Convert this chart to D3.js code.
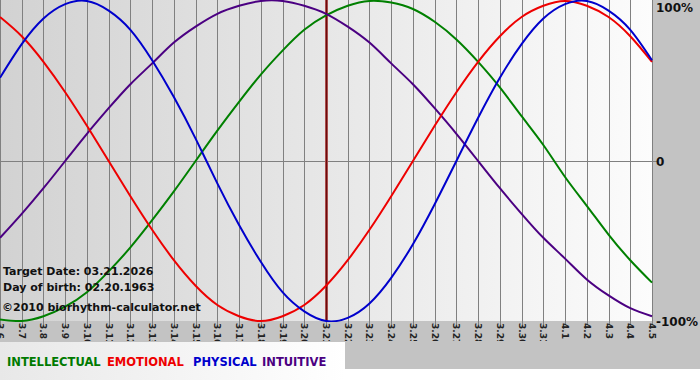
<!DOCTYPE html>
<html>
<head>
<meta charset="utf-8">
<script src="https://cdn.jsdelivr.net/npm/d3@7"></script>
<style>
  body { margin: 0; background: #fff; }
  svg { display: block; font-family: 'DejaVu Sans', Verdana, sans-serif; }
</style>
</head>
<body>
<svg id="chart" width="700" height="380"></svg>
<script>
// day labels along the bottom (3.6 .. 4.5)
const days = ['3.6', '3.7', '3.8', '3.9', '3.10', '3.11', '3.12', '3.13', '3.14', '3.15', '3.16',
  '3.17', '3.18', '3.19', '3.20', '3.21', '3.22', '3.23', '3.24', '3.25', '3.26', '3.27', '3.28',
  '3.29', '3.30', '3.31', '4.1', '4.2', '4.3', '4.4', '4.5'];

// values, one per day (-1 .. 1)
const physical = [0.52, 0.73, 0.89, 0.98, 1.0, 0.94, 0.82, 0.63, 0.40, 0.14, -0.14, -0.40, -0.63,
  -0.82, -0.94, -1.0, -0.98, -0.89, -0.73, -0.52, -0.27, 0.0, 0.27, 0.52, 0.73, 0.89, 0.98, 1.0,
  0.94, 0.82, 0.63];
const emotional = [0.90, 0.78, 0.62, 0.43, 0.22, 0.0, -0.22, -0.43, -0.62, -0.78, -0.90, -0.97,
  -1.0, -0.97, -0.90, -0.78, -0.62, -0.43, -0.22, 0.0, 0.22, 0.43, 0.62, 0.78, 0.90, 0.97, 1.0,
  0.97, 0.90, 0.78, 0.62];
const intellectual = [-0.99, -1.0, -0.97, -0.91, -0.82, -0.69, -0.54, -0.37, -0.19, 0.0, 0.19,
  0.37, 0.54, 0.69, 0.82, 0.91, 0.97, 1.0, 0.99, 0.95, 0.87, 0.76, 0.62, 0.46, 0.28, 0.10, -0.10,
  -0.28, -0.46, -0.62, -0.76];
const intuitive = [-0.48, -0.33, -0.17, 0.0, 0.17, 0.33, 0.48, 0.61, 0.74, 0.84, 0.92, 0.97, 1.0,
  1.0, 0.97, 0.92, 0.84, 0.74, 0.61, 0.48, 0.33, 0.17, 0.0, -0.17, -0.33, -0.48, -0.61, -0.74,
  -0.84, -0.92, -0.97];

const targetDay = '3.21';
const yTicks = [1, 0, -1];
const yTickLabels = ['100%', '0', '-100%'];
const legend = [
  { name: 'INTELLECTUAL', color: '#007a00', x: 7 },
  { name: 'EMOTIONAL', color: '#ee0000', x: 107 },
  { name: 'PHYSICAL', color: '#0000cc', x: 193 },
  { name: 'INTUITIVE', color: '#4b0082', x: 262 }
];
const series = [
  { values: intellectual, color: '#008000' },
  { values: intuitive, color: '#4b0082' },
  { values: emotional, color: '#ee0000' },
  { values: physical, color: '#0000cc' }
];
const infoLines = ['Target Date: 03.21.2026', 'Day of birth: 02.20.1963'];
const copyright = '\u00a92010 biorhythm-calculator.net';

const svg = d3.select('#chart');
const plotW = 652;
const plotTop = 1;
const plotBottom = 321;

const x = d3.scaleLinear().domain([0, days.length - 1]).range([0, plotW]);
const y = d3.scaleLinear().domain([-1, 1]).range([plotBottom, plotTop]);

const defs = svg.append('defs');
const bgGrad = defs.append('linearGradient').attr('id', 'plotbg')
  .attr('x1', 0).attr('x2', 1).attr('y1', 0).attr('y2', 0);
bgGrad.append('stop').attr('offset', 0).attr('stop-color', '#d2d2d2');
bgGrad.append('stop').attr('offset', 1).attr('stop-color', '#fcfcfc');

const legGrad = defs.append('linearGradient').attr('id', 'legbg')
  .attr('x1', 0).attr('x2', 1).attr('y1', 0).attr('y2', 0);
legGrad.append('stop').attr('offset', 0).attr('stop-color', '#e8e8e8');
legGrad.append('stop').attr('offset', 1).attr('stop-color', '#ffffff');

defs.append('clipPath').attr('id', 'plotclip')
  .append('rect').attr('x', 0).attr('y', 0).attr('width', plotW + 1).attr('height', plotBottom + 1);
defs.append('clipPath').attr('id', 'labelclip')
  .append('rect').attr('x', 0).attr('y', plotBottom).attr('width', 700).attr('height', 20);

// outer background
svg.append('rect').attr('width', 700).attr('height', 369).attr('fill', '#c3c3c3');
svg.append('rect').attr('y', 369).attr('width', 700).attr('height', 11).attr('fill', '#ffffff');
svg.append('rect').attr('x', 0).attr('y', 342).attr('width', 345).attr('height', 38)
  .attr('fill', 'url(#legbg)');

// plot background
svg.append('rect').attr('x', 0).attr('y', 0).attr('width', plotW).attr('height', plotBottom)
  .attr('fill', 'url(#plotbg)');

// vertical grid + ticks
svg.append('g').selectAll('line').data(days).join('line')
  .attr('x1', (d, i) => Math.round(x(i)) + 0.5).attr('x2', (d, i) => Math.round(x(i)) + 0.5)
  .attr('y1', 0).attr('y2', plotBottom + 4)
  .attr('stroke', '#808080').attr('stroke-width', 1);

// zero line
svg.append('line')
  .attr('x1', 0).attr('x2', plotW + 5)
  .attr('y1', Math.round(y(0)) + 0.5).attr('y2', Math.round(y(0)) + 0.5)
  .attr('stroke', '#808080');

// day labels, rotated and clipped like the original
svg.append('g').attr('clip-path', 'url(#labelclip)')
  .selectAll('text').data(days).join('text')
  .attr('transform', (d, i) => `translate(${x(i) - 3},${plotBottom + 2}) rotate(90)`)
  .attr('font-size', 9).attr('font-weight', 'bold').attr('fill', '#222')
  .text(d => d);

// target date line
const ti = days.indexOf(targetDay);
svg.append('line')
  .attr('x1', x(ti) + 0.5).attr('x2', x(ti) + 0.5)
  .attr('y1', 0).attr('y2', plotBottom)
  .attr('stroke', '#c06060').attr('stroke-width', 3);
svg.append('line')
  .attr('x1', x(ti) + 0.5).attr('x2', x(ti) + 0.5)
  .attr('y1', 0).attr('y2', plotBottom)
  .attr('stroke', '#6a0c0c').attr('stroke-width', 1.5);

// curves
const line = d3.line()
  .x((d, i) => x(i))
  .y(d => y(d))
  .curve(d3.curveNatural);

svg.append('g').attr('clip-path', 'url(#plotclip)')
  .selectAll('path').data(series).join('path')
  .attr('d', d => line(d.values))
  .attr('fill', 'none')
  .attr('stroke', d => d.color)
  .attr('stroke-width', 2);

// right axis labels
svg.append('g').selectAll('text').data(yTicks).join('text')
  .attr('x', plotW + 4)
  .attr('y', d => Math.max(y(d) + 5, 12))
  .attr('font-size', 12).attr('font-weight', 'bold').attr('fill', '#111')
  .text((d, i) => yTickLabels[i]);

// info text
svg.append('g').selectAll('text').data(infoLines).join('text')
  .attr('x', 3).attr('y', (d, i) => 275 + i * 16)
  .attr('font-size', 11).attr('font-weight', 'bold').attr('fill', '#111')
  .text(d => d);
svg.append('text')
  .attr('x', 2).attr('y', 311)
  .attr('font-size', 11).attr('font-weight', 'bold').attr('fill', '#111')
  .text(copyright);

// legend
svg.append('g').selectAll('text').data(legend).join('text')
  .attr('x', d => d.x).attr('y', 366)
  .attr('font-size', 11.5).attr('font-weight', 'bold')
  .attr('fill', d => d.color)
  .text(d => d.name);
</script>
</body>
</html>
